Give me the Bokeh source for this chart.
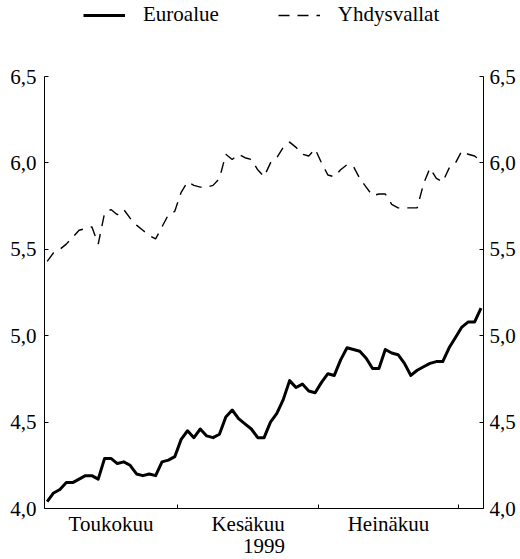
import pandas as pd
from bokeh.plotting import figure
from bokeh.models import (Range1d, LinearAxis, FixedTicker, CustomJSTickFormatter,
                          Legend, LegendItem)
from bokeh.embed import file_html
from bokeh.resources import INLINE

# ---- data (business days, 3 May - 5 Aug 1999) ----
dates = pd.bdate_range("1999-05-03", periods=69)
euro = [4.04, 4.09, 4.11, 4.15, 4.15, 4.17, 4.19, 4.19, 4.17, 4.29,
        4.29, 4.26, 4.27, 4.25, 4.20, 4.19, 4.20, 4.19, 4.27, 4.28,
        4.30, 4.40, 4.45, 4.41, 4.46, 4.42, 4.41, 4.43, 4.53, 4.57,
        4.52, 4.49, 4.46, 4.41, 4.41, 4.50, 4.55, 4.63, 4.74, 4.70,
        4.72, 4.68, 4.67, 4.73, 4.78, 4.77, 4.86, 4.93, 4.92, 4.91,
        4.87, 4.81, 4.81, 4.92, 4.90, 4.89, 4.84, 4.77, 4.80, 4.82,
        4.84, 4.85, 4.85, 4.93, 4.99, 5.05, 5.08, 5.08, 5.16]
usa = [5.43, 5.48, 5.50, 5.53, 5.57, 5.61, 5.62, 5.63, 5.53, 5.71,
       5.73, 5.70, 5.73, 5.68, 5.64, 5.61, 5.58, 5.56, 5.63, 5.70,
       5.72, 5.83, 5.89, 5.87, 5.86, 5.86, 5.87, 5.91, 6.05, 6.02,
       6.05, 6.03, 6.02, 5.96, 5.92, 6.00, 6.03, 6.09, 6.12, 6.09,
       6.05, 6.04, 6.08, 6.00, 5.93, 5.92, 5.96, 5.99, 5.98, 5.91,
       5.86, 5.81, 5.82, 5.82, 5.76, 5.74, 5.74, 5.74, 5.74, 5.88,
       5.97, 5.91, 5.89, 5.97, 6.00, 6.07, 6.05, 6.04, 6.01]
series_names = ["Euroalue", "Yhdysvallat"]
month_names = ["Toukokuu", "Kesäkuu", "Heinäkuu"]
year_label = "1999"
y_ticks = [4.0, 4.5, 5.0, 5.5, 6.0, 6.5]
Y0, Y1 = 4.0, 6.5

x = list(range(len(dates)))
months = [d.month for d in dates]
# month boundaries (between last day of a month and first of the next)
boundaries = [i - 0.5 for i in range(1, len(months)) if months[i] != months[i - 1]]
centers = []
for m in sorted(set(months))[:3]:
    idx = [i for i, mm in enumerate(months) if mm == m]
    centers.append((idx[0] + idx[-1]) / 2)

FONT = "Liberation Serif"
FS = "21px"
X0, X1 = -0.42, 68.39

# axis box: 432 px for 4.0..6.5; extra room above (76 px) holds the legend
PX_PER_UNIT = 432 / (Y1 - Y0)
Y_TOP = Y1 + 76 / PX_PER_UNIT

p = figure(width=520, height=559, output_backend="svg", toolbar_location=None,
           x_range=Range1d(X0, X1), y_range=Range1d(Y0, Y_TOP),
           x_axis_location=None, y_axis_location=None,
           min_border_left=44, min_border_right=37, min_border_top=0,
           min_border_bottom=51)
p.outline_line_color = None
p.grid.visible = False
p.background_fill_color = "white"
p.border_fill_color = "white"

r_eu = p.line(x, euro, line_color="black", line_width=3, line_join="round")
r_us = p.line(x, usa, line_color="black", line_width=1.4, line_dash="11 8")

fmt = CustomJSTickFormatter(code="return tick.toFixed(1).replace('.', ',')")

def style_y(ax):
    ax.ticker = FixedTicker(ticks=y_ticks)
    ax.formatter = fmt
    ax.bounds = (Y0, Y1)
    ax.major_tick_in = 4
    ax.major_tick_out = 0
    ax.minor_tick_line_color = None
    ax.axis_line_color = "black"
    ax.major_tick_line_color = "black"
    ax.major_label_text_font = FONT
    ax.major_label_text_font_size = FS
    ax.major_label_text_color = "black"

ly = LinearAxis(major_label_standoff=8)
style_y(ly)
p.add_layout(ly, "left")
ry = LinearAxis(major_label_standoff=6)
style_y(ry)
p.add_layout(ry, "right")

bx = LinearAxis(
    ticker=FixedTicker(ticks=centers, minor_ticks=boundaries),
    formatter=CustomJSTickFormatter(
        args=dict(c=centers, n=month_names),
        code="for (let i = 0; i < c.length; i++) { if (Math.abs(c[i] - tick) < 1e-6) return n[i]; } return '';"),
    axis_label=year_label,
)
bx.major_tick_in = 0
bx.major_tick_out = 0
bx.minor_tick_in = 4
bx.minor_tick_out = 0
bx.minor_tick_line_color = "black"
bx.axis_line_color = "black"
bx.major_label_standoff = 3
bx.axis_label_standoff = 0
bx.major_label_text_font = FONT
bx.major_label_text_font_size = FS
bx.major_label_text_color = "black"
bx.axis_label_text_font = FONT
bx.axis_label_text_font_size = FS
bx.axis_label_text_font_style = "normal"
bx.axis_label_text_color = "black"
p.add_layout(bx, "below")

legend = Legend(
    items=[LegendItem(label=series_names[0], renderers=[r_eu]),
           LegendItem(label=series_names[1], renderers=[r_us])],
    orientation="horizontal", location=(39, 481),
    glyph_width=42, glyph_height=20, label_standoff=18, spacing=59,
    padding=0, margin=0, border_line_color=None, background_fill_alpha=0,
    label_text_font=FONT, label_text_font_size=FS, label_text_color="black",
)
p.add_layout(legend, "center")

open("out.html", "w").write(file_html(p, INLINE))
